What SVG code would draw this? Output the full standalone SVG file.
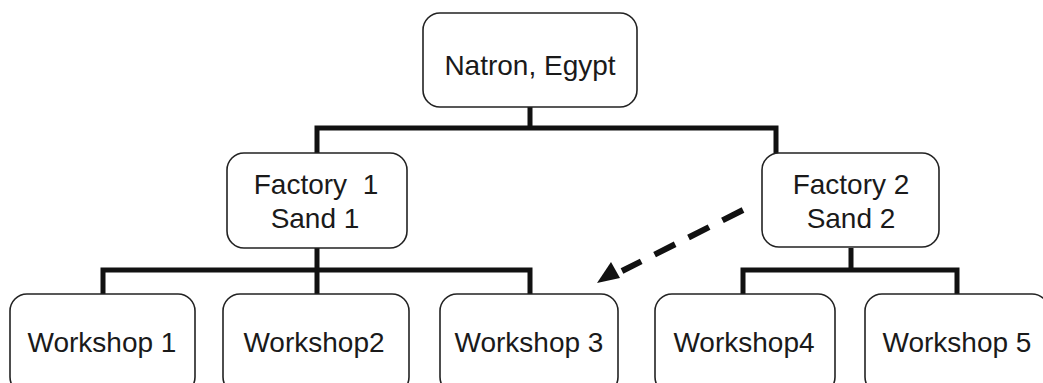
<svg xmlns="http://www.w3.org/2000/svg" width="1043" height="383" viewBox="0 0 1043 383">
<defs>
<style>
.box{fill:#fff;stroke:#222;stroke-width:1.6}
.lbl{font-family:"Liberation Sans",Arial,sans-serif;font-size:28px;fill:#1a1a1a;text-anchor:middle}
.tree{fill:none;stroke:#111;stroke-width:5;stroke-linejoin:miter;stroke-linecap:butt}
.dash{fill:none;stroke:#111;stroke-width:6;stroke-dasharray:23 15}
</style>
<marker id="ah" viewBox="0 0 10 10" refX="10" refY="5" markerWidth="5" markerHeight="5" orient="auto" markerUnits="strokeWidth">
<path d="M0,0 L10,5 L0,10 z" fill="#111"/>
</marker>
</defs>
<rect width="1043" height="383" fill="#fff"/>
<g id="connectors">
<path class="tree" d="M530,107 V128 M314.5,128 H778.5 M317,128 V153 M776,128 V153"/>
<path class="tree" d="M317,248 V270 M100.5,270 H532.5 M103,270 V294 M317,270 V294 M530,270 V294"/>
<path class="tree" d="M851,248 V270 M740.5,270 H959.5 M743,270 V294 M957,270 V294"/>
<path class="dash" d="M743,210 L622,271" />
<path d="M597,283 L611,262 L620,278 z" fill="#111"/>
</g>
<g id="natron">
<rect class="box" x="423" y="13" width="214" height="94" rx="17"/>
<text class="lbl" x="530" y="75">Natron, Egypt</text>
</g>
<g id="factory1">
<rect class="box" x="227" y="153" width="180" height="95" rx="17"/>
<text class="lbl" x="316" y="194" xml:space="preserve">Factory  1</text>
<text class="lbl" x="315" y="228">Sand 1</text>
</g>
<g id="factory2">
<rect class="box" x="762" y="153" width="177" height="94" rx="17"/>
<text class="lbl" x="851" y="194">Factory 2</text>
<text class="lbl" x="851" y="228">Sand 2</text>
</g>
<g id="workshop1">
<rect class="box" x="10" y="294" width="185" height="100" rx="17"/>
<text class="lbl" x="102" y="352">Workshop 1</text>
</g>
<g id="workshop2">
<rect class="box" x="223" y="294" width="186" height="100" rx="17"/>
<text class="lbl" x="314" y="352">Workshop2</text>
</g>
<g id="workshop3">
<rect class="box" x="440" y="294" width="178" height="100" rx="17"/>
<text class="lbl" x="529" y="352">Workshop 3</text>
</g>
<g id="workshop4">
<rect class="box" x="655" y="294" width="180" height="100" rx="17"/>
<text class="lbl" x="744" y="352">Workshop4</text>
</g>
<g id="workshop5">
<rect class="box" x="865" y="294" width="184" height="100" rx="17"/>
<text class="lbl" x="957" y="352">Workshop 5</text>
</g>
</svg>
